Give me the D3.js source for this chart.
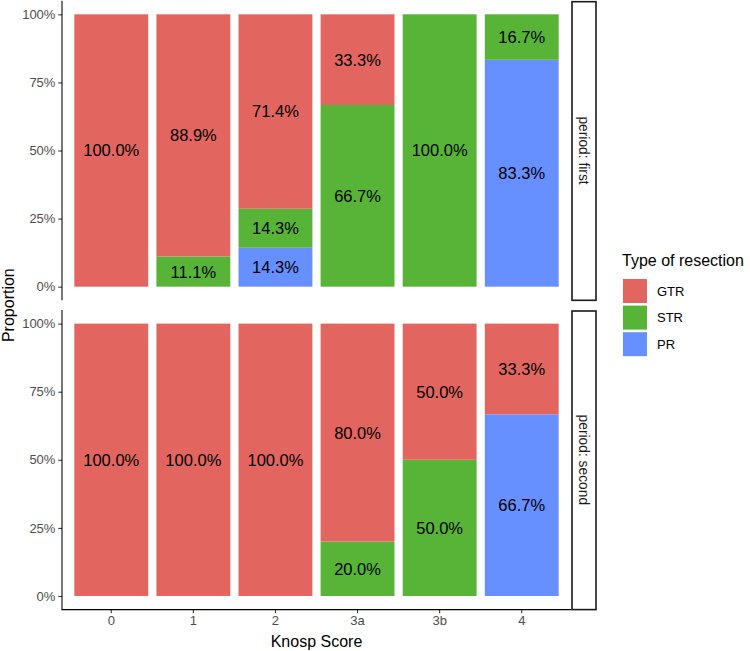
<!DOCTYPE html>
<html>
<head>
<meta charset="utf-8">
<script src="https://cdn.jsdelivr.net/npm/d3@7"></script>
<style>
  html, body { margin: 0; padding: 0; background: #fff; }
  svg { display: block; font-family: "Liberation Sans", Arial, Helvetica, sans-serif; }
</style>
</head>
<body>
<svg id="chart" width="750" height="651"></svg>
<script>
// ---- data ----
const categories = ["0", "1", "2", "3a", "3b", "4"];
const resectionTypes = ["GTR", "STR", "PR"];
const periods = ["first", "second"];
// proportions (%) per Knosp score, by period
const firstGTR  = [100.0, 88.9, 71.4, 33.3, 0, 0];
const firstSTR  = [0, 11.1, 14.3, 66.7, 100.0, 16.7];
const firstPR   = [0, 0, 14.3, 0, 0, 83.3];
const secondGTR = [100.0, 100.0, 100.0, 80.0, 50.0, 33.3];
const secondSTR = [0, 0, 0, 20.0, 50.0, 0];
const secondPR  = [0, 0, 0, 0, 0, 66.7];
const yTicks = [0, 0.25, 0.5, 0.75, 1];
const colors = ["#E2665F", "#57B437", "#668FFF"];

const seriesByPeriod = {
  first:  { GTR: firstGTR,  STR: firstSTR,  PR: firstPR },
  second: { GTR: secondGTR, STR: secondSTR, PR: secondPR }
};

// ---- layout ----
const svg = d3.select("#chart");
const panelLeft = 62, panelRight = 571;
const panels = [
  { period: "first",  top: 0.7, bottom: 300.3 },
  { period: "second", top: 310, bottom: 609.6 }
];
const stripLeft = 572, stripRight = 596;

const x = d3.scaleBand()
  .domain(categories)
  .range([panelLeft, panelRight])
  .paddingInner(0.1)
  .paddingOuter(0.15);

const color = d3.scaleOrdinal().domain(resectionTypes).range(colors);

panels.forEach((p, pi) => {
  const exp = (p.bottom - p.top) * 0.05 / 1.1;
  const y = d3.scaleLinear().domain([0, 1]).range([p.bottom - exp, p.top + exp]);
  const g = svg.append("g");

  // stacked data: GTR on top, then STR, then PR at bottom
  const rows = categories.map((c, i) => {
    const r = { cat: c };
    resectionTypes.forEach(t => r[t] = seriesByPeriod[p.period][t][i] / 100);
    return r;
  });
  const stack = d3.stack().keys(resectionTypes.slice().reverse());
  const layers = stack(rows);

  layers.forEach(layer => {
    const key = layer.key;
    layer.forEach(d => {
      const v = d[1] - d[0];
      if (v <= 0) return;
      g.append("rect")
        .attr("x", x(d.data.cat))
        .attr("width", x.bandwidth())
        .attr("y", y(d[1]))
        .attr("height", y(d[0]) - y(d[1]))
        .attr("fill", color(key));
      g.append("text")
        .attr("x", x(d.data.cat) + x.bandwidth() / 2)
        .attr("y", y((d[0] + d[1]) / 2))
        .attr("dy", "0.36em")
        .attr("text-anchor", "middle")
        .attr("font-size", 16.5)
        .attr("fill", "#000")
        .text(d3.format(".1f")(v * 100) + "%");
    });
  });

  // y axis
  const yAxis = d3.axisLeft(y).tickValues(yTicks).tickFormat(d3.format(".0%"))
    .tickSizeInner(3.7).tickSizeOuter(0).tickPadding(2.9);
  const ya = svg.append("g").attr("transform", `translate(${panelLeft},0)`).call(yAxis);
  ya.select(".domain").remove();
  ya.selectAll(".tick line").attr("stroke", "#333").attr("stroke-width", 1.07);
  ya.selectAll(".tick text").attr("fill", "#4d4d4d").attr("font-size", 13)
    .attr("font-family", "Liberation Sans, Arial, sans-serif");
  svg.append("line")
    .attr("x1", panelLeft).attr("x2", panelLeft)
    .attr("y1", p.top).attr("y2", p.bottom)
    .attr("stroke", "#000").attr("stroke-width", 1.07);

  // x axis on bottom panel only
  if (pi === panels.length - 1) {
    const xAxis = d3.axisBottom(x).tickSizeInner(3.7).tickSizeOuter(0).tickPadding(2.9);
    const xa = svg.append("g").attr("transform", `translate(0,${p.bottom})`).call(xAxis);
    xa.select(".domain").remove();
    xa.selectAll(".tick line").attr("stroke", "#333").attr("stroke-width", 1.07);
    xa.selectAll(".tick text").attr("fill", "#4d4d4d").attr("font-size", 13)
      .attr("font-family", "Liberation Sans, Arial, sans-serif");
    svg.append("line")
      .attr("x1", panelLeft - 0.5).attr("x2", panelRight)
      .attr("y1", p.bottom).attr("y2", p.bottom)
      .attr("stroke", "#000").attr("stroke-width", 1.07);
  }

  // strip
  svg.append("rect")
    .attr("x", stripLeft).attr("y", p.top + 1)
    .attr("width", stripRight - stripLeft).attr("height", p.bottom - p.top - 1)
    .attr("fill", "#fff").attr("stroke", "#1a1a1a").attr("stroke-width", 1.6);
  const cx = (stripLeft + stripRight) / 2, cy = (p.top + p.bottom) / 2;
  svg.append("text")
    .attr("transform", `translate(${cx},${cy}) rotate(90)`)
    .attr("text-anchor", "middle")
    .attr("dy", "0.35em")
    .attr("font-size", 13.8)
    .attr("fill", "#1a1a1a")
    .text("period: " + p.period);
});

// axis titles
svg.append("text")
  .attr("x", (panelLeft + panelRight) / 2).attr("y", 647)
  .attr("text-anchor", "middle").attr("font-size", 16).attr("fill", "#000")
  .text("Knosp Score");
svg.append("text")
  .attr("transform", `translate(14,${(panels[0].top + panels[1].bottom) / 2}) rotate(-90)`)
  .attr("text-anchor", "middle").attr("font-size", 16).attr("fill", "#000")
  .text("Proportion");

// legend
const lg = svg.append("g").attr("transform", "translate(622,0)");
lg.append("text").attr("x", 0).attr("y", 266).attr("font-size", 16).attr("fill", "#000")
  .text("Type of resection");
resectionTypes.forEach((t, i) => {
  const ky = 279 + i * 26.6;
  lg.append("rect").attr("x", 1).attr("y", ky).attr("width", 24).attr("height", 24)
    .attr("fill", color(t));
  lg.append("text").attr("x", 35).attr("y", ky + 12).attr("dy", "0.35em")
    .attr("font-size", 13).attr("fill", "#000").text(t);
});
</script>
</body>
</html>
